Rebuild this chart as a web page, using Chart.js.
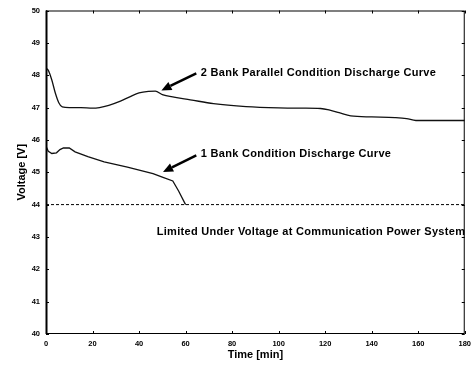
<!DOCTYPE html>
<html>
<head>
<meta charset="utf-8">
<script src="https://cdn.jsdelivr.net/npm/chart.js@4.4.1/dist/chart.umd.min.js"></script>
<style>
html,body{margin:0;padding:0;background:#fff;}
canvas{display:block;}
</style>
</head>
<body>
<canvas id="c" width="476" height="366"></canvas>
<script>
// ---- data ----
const xTicks = [0, 20, 40, 60, 80, 100, 120, 140, 160, 180];
const yTicks = [40, 41, 42, 43, 44, 45, 46, 47, 48, 49, 50];

const bank2Time = [0, 1, 2.5, 4, 5.5, 7, 10, 15, 20, 23, 27, 32, 36, 40, 44, 47, 50, 55, 62, 72, 86, 100, 110, 118, 122, 126, 131, 140, 150, 155, 159, 170, 180];
const bank2Volt = [48.22, 48.15, 47.85, 47.45, 47.15, 47.02, 47.0, 47.0, 46.98, 47.0, 47.07, 47.2, 47.33, 47.45, 47.5, 47.51, 47.4, 47.32, 47.24, 47.12, 47.03, 46.99, 46.98, 46.97, 46.92, 46.84, 46.74, 46.71, 46.69, 46.66, 46.6, 46.6, 46.6];

const bank1Time = [0, 1, 2.5, 4.5, 6, 7.5, 10, 12.5, 18, 25, 35, 46, 50, 54.5, 57, 60];
const bank1Volt = [45.8, 45.65, 45.58, 45.6, 45.7, 45.75, 45.75, 45.63, 45.48, 45.32, 45.16, 44.96, 44.85, 44.73, 44.42, 44.0];

const limitTime = [0, 180];
const limitVolt = [44, 44];

const labelBank2 = "2 Bank Parallel Condition Discharge Curve";
const labelBank1 = "1 Bank Condition Discharge Curve";
const labelLimit = "Limited Under Voltage at Communication Power System";

// annotation anchors in data units [time, volt]
const arrow2 = {from: [64.6, 48.06], to: [49.6, 47.53]};
const arrow1 = {from: [64.6, 45.52], to: [50.3, 45.01]};
const text2Pos = [66.5, 48.07];
const text1Pos = [66.5, 45.55];
const textLimitPos = [47.6, 43.16];

const toPts = (xs, ys) => xs.map((x, i) => ({x: x, y: ys[i]}));

const FONT = "'Liberation Sans', Arial, sans-serif";

const decor = {
  id: 'decor',
  afterDatasetsDraw(chart) {
    const {ctx, chartArea: a, scales: {x, y}} = chart;
    ctx.save();
    // box
    ctx.strokeStyle = '#000';
    ctx.lineWidth = 1;
    ctx.strokeRect(a.left + 0.5, a.top + 0.5, a.right - a.left - 1, a.bottom - a.top - 1);
    ctx.lineWidth = 2;
    ctx.beginPath(); ctx.moveTo(a.left + 0.5, a.top); ctx.lineTo(a.left + 0.5, a.bottom); ctx.stroke();
    // inward ticks
    ctx.lineWidth = 1;
    const tl = 3;
    ctx.beginPath();
    xTicks.forEach(v => {
      const px = Math.round(x.getPixelForValue(v)) + 0.5;
      ctx.moveTo(px, a.bottom); ctx.lineTo(px, a.bottom - tl);
      ctx.moveTo(px, a.top); ctx.lineTo(px, a.top + tl);
    });
    yTicks.forEach(v => {
      const py = Math.round(y.getPixelForValue(v)) + 0.5;
      ctx.moveTo(a.left, py); ctx.lineTo(a.left + tl, py);
      ctx.moveTo(a.right, py); ctx.lineTo(a.right - tl, py);
    });
    ctx.stroke();
    // arrows
    const drawArrow = (ar) => {
      const x0 = x.getPixelForValue(ar.from[0]), y0 = y.getPixelForValue(ar.from[1]);
      const x1 = x.getPixelForValue(ar.to[0]), y1 = y.getPixelForValue(ar.to[1]);
      const ang = Math.atan2(y1 - y0, x1 - x0);
      const hl = 10, hw = 4.5;
      const bx = x1 - hl * Math.cos(ang), by = y1 - hl * Math.sin(ang);
      ctx.lineWidth = 2.5;
      ctx.beginPath(); ctx.moveTo(x0, y0); ctx.lineTo(bx, by); ctx.stroke();
      ctx.beginPath();
      ctx.moveTo(x1, y1);
      ctx.lineTo(bx + hw * Math.sin(ang), by - hw * Math.cos(ang));
      ctx.lineTo(bx - hw * Math.sin(ang), by + hw * Math.cos(ang));
      ctx.closePath(); ctx.fill();
    };
    ctx.fillStyle = '#000';
    drawArrow(arrow2);
    drawArrow(arrow1);
    // texts
    ctx.font = "bold 11px " + FONT;
    try { ctx.letterSpacing = '0.3px'; } catch (e) {}
    ctx.textBaseline = 'middle';
    ctx.textAlign = 'left';
    ctx.fillText(labelBank2, x.getPixelForValue(text2Pos[0]), y.getPixelForValue(text2Pos[1]));
    ctx.fillText(labelBank1, x.getPixelForValue(text1Pos[0]), y.getPixelForValue(text1Pos[1]));
    ctx.fillText(labelLimit, x.getPixelForValue(textLimitPos[0]), y.getPixelForValue(textLimitPos[1]));
    ctx.restore();
  }
};

new Chart(document.getElementById('c'), {
  type: 'line',
  data: {
    datasets: [
      {data: toPts(bank2Time, bank2Volt), borderColor: '#111', borderWidth: 1.3, pointRadius: 0, tension: 0.3, cubicInterpolationMode: 'monotone', fill: false},
      {data: toPts(bank1Time, bank1Volt), borderColor: '#111', borderWidth: 1.3, pointRadius: 0, tension: 0, fill: false},
      {data: toPts(limitTime, limitVolt), borderColor: '#000', borderWidth: 1, borderDash: [3, 2], pointRadius: 0, fill: false}
    ]
  },
  options: {
    responsive: false,
    animation: false,
    devicePixelRatio: 1,
    layout: {padding: {top: 10, right: 10, left: 0, bottom: 0}},
    plugins: {legend: {display: false}, tooltip: {enabled: false}},
    scales: {
      x: {
        type: 'linear', min: 0, max: 180,
        afterFit: s => { s.height = 32; },
        afterBuildTicks: s => { s.ticks = xTicks.map(v => ({value: v})); },
        grid: {display: false, drawTicks: false}, border: {display: false},
        ticks: {color: '#000', padding: 5, maxRotation: 0, font: {family: FONT, size: 7.5, weight: 'bold'}},
        title: {display: true, text: 'Time [min]', color: '#000', padding: {top: 0, bottom: 4}, font: {family: FONT, size: 11, weight: 'bold'}}
      },
      y: {
        type: 'linear', min: 40, max: 50,
        afterFit: s => { s.width = 46; },
        afterBuildTicks: s => { s.ticks = yTicks.map(v => ({value: v})); },
        grid: {display: false, drawTicks: false}, border: {display: false},
        ticks: {color: '#000', padding: 6, font: {family: FONT, size: 7.5, weight: 'bold'}},
        title: {display: true, text: 'Voltage [V]', color: '#000', padding: {top: 15, bottom: 0}, font: {family: FONT, size: 11, weight: 'bold'}}
      }
    }
  },
  plugins: [decor]
});
</script>
</body>
</html>
